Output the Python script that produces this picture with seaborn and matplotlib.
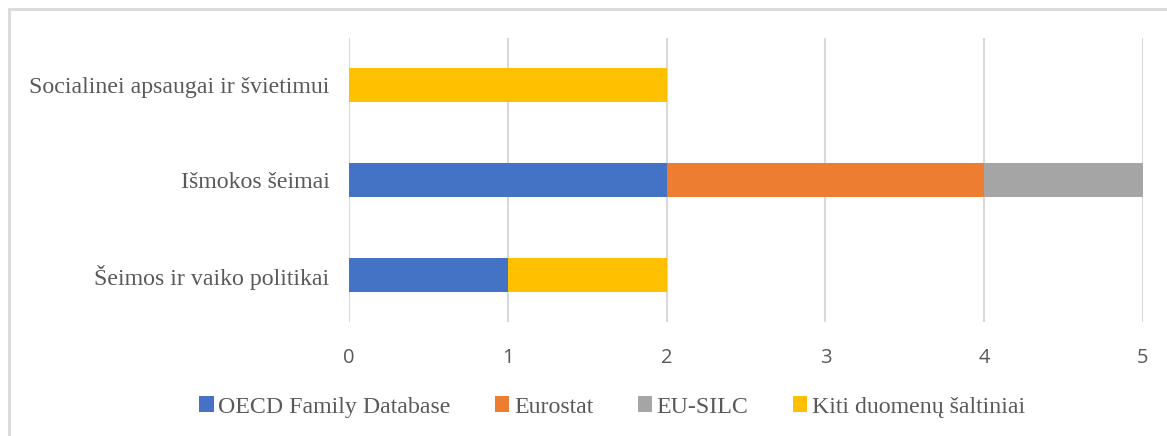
import matplotlib
matplotlib.use("Agg")
import matplotlib.pyplot as plt
import seaborn as sns
import pandas as pd
import numpy as np
from matplotlib.patches import Rectangle, Patch

categories = ["Socialinei apsaugai ir švietimui", "Išmokos šeimai", "Šeimos ir vaiko politikai"]
series_names = ["OECD Family Database", "Eurostat", "EU-SILC", "Kiti duomenų šaltiniai"]
oecd = [0, 2, 1]
eurostat = [0, 2, 0]
eusilc = [0, 1, 0]
kiti = [2, 0, 1]
colors = ["#4472C4", "#ED7D31", "#A5A5A5", "#FFC000"]
xticks = [0, 1, 2, 3, 4, 5]

sns.set_theme(style="white")
plt.rcParams["font.family"] = ["Liberation Serif", "DejaVu Serif"]

df = pd.DataFrame({"cat": categories, series_names[0]: oecd, series_names[1]: eurostat,
                   series_names[2]: eusilc, series_names[3]: kiti})
cum = df[series_names].cumsum(axis=1)

fig = plt.figure(figsize=(11.67, 4.36), dpi=100)
ax = fig.add_axes([349 / 1167, 1 - 322 / 436, (1143 - 349) / 1167, (322 - 38) / 436])

for name, col in reversed(list(zip(series_names, colors))):
    sns.barplot(x=cum[name], y=df["cat"], orient="h", color=col, width=0.36,
                ax=ax, saturation=1, zorder=3, linewidth=0)

ax.set_xlim(0, 5)
ax.set_ylim(2.5, -0.5)
ax.set_xticks(xticks)
ax.set_xticklabels([str(t) for t in xticks], family=["Open Sans", "DejaVu Sans"], fontsize=14.5, color="#595959")
ax.set_yticklabels(categories, fontsize=17.2, color="#595959")
ax.tick_params(axis="x", length=0, pad=19)
ax.tick_params(axis="y", length=0, pad=14)
ax.set_xlabel("")
ax.set_ylabel("")
ax.grid(axis="x", color="#D9D9D9", linewidth=1.5, zorder=0)
ax.grid(axis="y", visible=False)
for s in ax.spines.values():
    s.set_visible(False)

handles = [Patch(facecolor=c, edgecolor="none") for c in colors]
fig.legend(handles, series_names, loc="center", bbox_to_anchor=(0.5245, 1 - 407 / 436), ncol=4,
           frameon=False, fontsize=17.2, labelcolor="#595959", handlelength=0.6, handleheight=0.6,
           handletextpad=0.2, columnspacing=1.85)

fig.patches.append(Rectangle((9 / 1167, -0.1), 1.2, 1 - 9 / 436 + 0.1, transform=fig.transFigure,
                             fill=False, edgecolor="#D9D9D9", linewidth=2, zorder=0))

fig.savefig("out.png", dpi=100)
